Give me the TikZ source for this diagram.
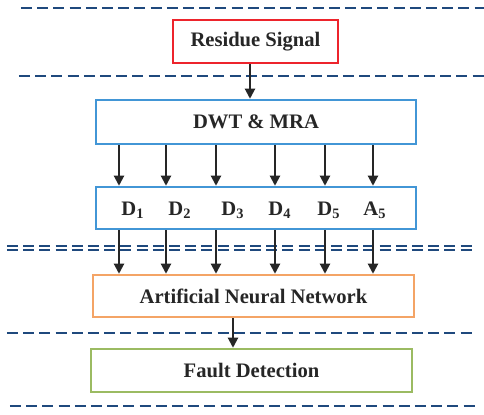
\documentclass[tikz,border=0pt]{standalone}
\usepackage{fontspec}
\setmainfont{Liberation Serif}
\definecolor{sigred}{RGB}{237,36,44}
\definecolor{dwtblue}{RGB}{66,150,214}
\definecolor{annorange}{RGB}{244,164,102}
\definecolor{faultgreen}{RGB}{155,187,98}
\definecolor{sepblue}{RGB}{31,73,125}
\usetikzlibrary{arrows.meta, positioning}

\begin{document}
\begin{tikzpicture}[x=0.5pt, y=-0.5pt,
    block/.style={rectangle, draw, fill=white, line width=1.25pt, inner sep=0pt,
        font=\fontsize{10.3}{12}\selectfont\bfseries, text=black!85},
    sepline/.style={draw=sepblue, line width=1pt, dash pattern=on 5.5pt off 2.6pt},
    flow/.style={draw=black!85, line width=1pt, -{Triangle[length=5pt, width=5pt]}}]
    \useasboundingbox (0,0) rectangle (484,415);
    % Separator lines
    \draw[sepline] (21,8) -- (484,8);
    \draw[sepline] (19,76) -- (484,76);
    \draw[sepline] (7,246) -- (473,246);
    \draw[sepline] (7,250) -- (473,250);
    \draw[sepline] (7,333) -- (473,333);
    \draw[sepline] (10,406) -- (475,406);
    % Blocks
    \node[block, draw=sigred, minimum width=82.5pt, minimum height=21.5pt] (residue) at (255.5,41.5) {Residue Signal};
    \node[block, draw=dwtblue, minimum width=160pt, minimum height=22pt] (dwt) at (256,122) {DWT \& MRA};
    \node[block, draw=dwtblue, minimum width=160pt, minimum height=21pt] (coef) at (256,208) {};
    \node[block, draw=annorange, minimum width=160.5pt, minimum height=21pt] (ann) at (253.5,296) {Artificial Neural Network};
    \node[block, draw=faultgreen, minimum width=160.5pt, minimum height=21.5pt] (fault) at (251.5,370.5) {Fault Detection};
    % Coefficient labels
    \foreach \lx/\lbl [count=\i] in {133/D, 180/D, 233/D, 280/D, 329/D, 375/A} {
        \pgfmathtruncatemacro{\sub}{\i<6 ? \i : 5}
        \node[font=\fontsize{10.3}{12}\selectfont\bfseries, text=black!85, inner sep=0pt] (lbl\i) at (\lx,210) {\lbl\textsubscript{\sub}};
    }
    % Arrows
    \draw[flow] (residue.south -| 250,0) -- (dwt.north -| 250,0);
    \foreach \cx [count=\i] in {119, 166, 216, 275, 325, 373} {
        \coordinate (col\i) at (\cx,0);
        \draw[flow] (dwt.south -| col\i) -- (coef.north -| col\i);
        \draw[flow] (coef.south -| col\i) -- (ann.north -| col\i);
    }
    \draw[flow] (ann.south -| 233,0) -- (fault.north -| 233,0);
\end{tikzpicture}
\end{document}
